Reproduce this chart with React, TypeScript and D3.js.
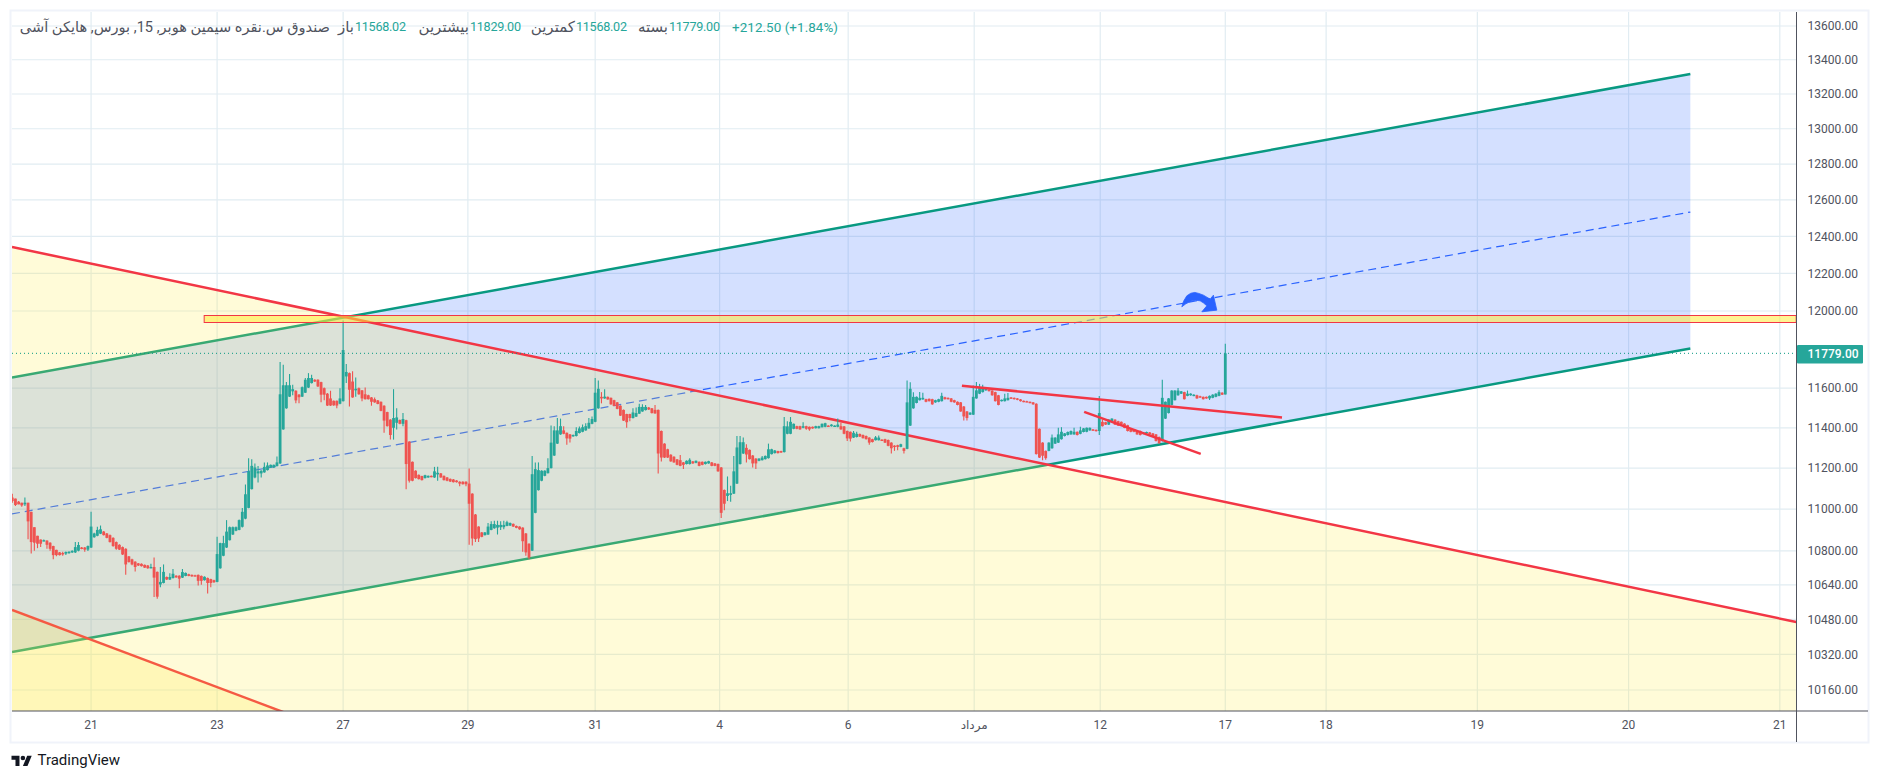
import React from "react";
import * as d3 from "d3";

// ---------- axis values ----------
const priceTicks = [13600, 13400, 13200, 13000, 12800, 12600, 12400, 12200, 12000, 11600, 11400, 11200, 11000, 10800, 10640, 10480, 10320, 10160];
const timeTickLabels = ["21", "23", "27", "29", "31", "4", "6", "مرداد", "12", "17", "18", "19", "20", "21"];
const timeTickBars = [25, 65, 105, 144.6, 185, 224.5, 265.3, 305.3, 345.3, 385, 417, 465, 513, 561];
const lastClose = 11779;

// ---------- OHLC bars: [open, close, high, low] ----------
type Bar = [number, number, number, number];
const barsFirstSwing: Bar[] = [
[11056,11039,11075,11031],[11051,11020,11051,11015],[11036,11023,11039,11023],[11031,11018,11031,11011],[11023,11031,11056,11015],
[11031,10941,11031,10855],[10987,10842,10987,10788],[10913,10839,10913,10801],[10872,10834,10872,10813],[10854,10834,10854,10818],
[10846,10851,10854,10846],[10849,10829,10851,10810],[10839,10810,10841,10801],[10823,10780,10825,10760],[10805,10780,10805,10775],
[10793,10780,10795,10778],[10790,10787,10796,10777],[10787,10795,10797,10780],[10790,10796,10798,10787],[10793,10800,10803,10790],
[10793,10818,10842,10790],[10801,10828,10842,10798],[10816,10810,10818,10808],[10816,10806,10818,10796],[10806,10823,10826,10800],
[10816,10916,10987,10814],[10865,10883,10886,10862],[10872,10900,10915,10870],[10882,10903,10921,10880],[10892,10875,10895,10873],
[10883,10862,10885,10860],[10875,10842,10878,10840],[10862,10823,10865,10820],[10842,10810,10845,10806],[10829,10806,10832,10804],
[10818,10783,10821,10780],[10810,10736,10812,10687],[10774,10747,10776,10745],[10760,10736,10763,10732],[10749,10724,10751,10703],
[10741,10731,10743,10729],[10739,10728,10741,10726],[10734,10721,10736,10719],[10731,10718,10733,10716],[10721,10724,10739,10718],
[10724,10674,10769,10583],[10701,10585,10703,10575],[10642,10654,10724,10629],[10649,10701,10736,10647],[10677,10665,10679,10663],
[10665,10677,10695,10663],[10672,10692,10715,10670],[10683,10675,10685,10673],[10683,10669,10685,10624],[10674,10700,10715,10672],
[10682,10696,10698,10680],[10690,10682,10692,10680],[10687,10680,10689,10678],[10685,10682,10687,10680],[10687,10659,10689,10637],
[10682,10659,10684,10641],[10662,10678,10680,10660],[10672,10649,10674,10600],[10667,10649,10669,10629],[10662,10652,10664,10650],
];
const barsFirstRally: Bar[] = [
[10654,10785,10867,10652],[10718,10837,10839,10716],[10777,10837,10872,10775],[10816,10892,10947,10814],[10851,10913,10916,10849],
[10878,10913,10916,10876],[10896,10913,10916,10894],[10900,10947,10950,10898],[10915,10987,11006,10912],[10954,11072,11120,10951],
[11006,11184,11248,11004],[11097,11211,11244,11095],[11154,11203,11223,11150],[11174,11184,11210,11129],[11174,11187,11190,11154],
[11179,11206,11228,11177],[11190,11213,11228,11188],[11203,11216,11218,11201],[11203,11216,11218,11201],[11210,11228,11257,11208],
[11223,11569,11734,11220],[11392,11615,11720,11390],[11498,11615,11631,11496],[11557,11615,11672,11555],[11584,11595,11617,11564],
[11587,11538,11589,11523],[11567,11554,11570,11523],[11557,11605,11608,11555],[11577,11643,11652,11575],[11603,11652,11677,11601],
[11626,11652,11669,11624],[11643,11634,11645,11632],[11643,11609,11645,11606],[11631,11567,11633,11528],[11600,11567,11603,11539],
[11572,11512,11575,11510],[11548,11512,11587,11510],[11536,11513,11538,11511],[11536,11512,11538,11498],[11521,11548,11600,11519],
[11534,11796,11950,11532],[11660,11683,11724,11626],[11677,11592,11680,11507],[11634,11553,11686,11551],[11589,11597,11655,11556],
[11600,11569,11603,11567],[11589,11548,11591,11534],[11569,11544,11603,11542],[11564,11544,11566,11542],[11553,11531,11555,11511],
[11544,11528,11553,11526],[11538,11520,11540,11518],[11531,11485,11533,11483],[11511,11436,11513,11375],[11479,11408,11481,11406],
[11441,11364,11443,11341],[11400,11449,11595,11341],[11425,11452,11498,11392],[11439,11420,11441,11418],[11420,11444,11474,11408],
[11438,11220,11440,11097],[11331,11138,11333,11129],[11231,11138,11233,11136],[11187,11151,11189,11149],[11167,11146,11169,11144],
[11161,11141,11163,11139],[11151,11165,11167,11149],[11154,11162,11164,11152],[11162,11157,11164,11155],[11154,11184,11206,11152],
[11169,11177,11206,11138],[11174,11154,11176,11152],[11162,11141,11164,11139],[11154,11138,11156,11136],[11147,11134,11149,11132],
];
const barsSecondSwing: Bar[] = [
[11144,11131,11146,11129],[11139,11131,11141,11129],[11133,11124,11135,11111],[11133,11121,11135,11119],[11133,11121,11135,11111],
[11124,11026,11198,10829],[11075,10859,11077,10826],[10974,10856,10976,10842],[10916,10859,10918,10842],[10888,10867,10890,10865],
[10875,10888,10890,10873],[10878,10916,10933,10876],[10900,10928,10941,10898],[10908,10928,10944,10906],[10911,10924,10944,10878],
[10913,10924,10941,10900],[10913,10924,10944,10903],[10919,10937,10944,10917],[10921,10933,10935,10919],[10929,10916,10931,10914],
[10919,10910,10921,10908],[10916,10903,10918,10901],[10911,10846,10913,10796],[10883,10793,10885,10777],[10834,10769,10836,10760],
[10801,11170,11260,10799],[10982,11195,11228,10980],[11092,11190,11228,11090],[11138,11187,11190,11136],[11162,11187,11190,11160],
[11175,11200,11249,11173],[11200,11326,11411,11198],[11262,11387,11408,11260],[11321,11387,11449,11319],[11367,11408,11446,11365],
[11387,11370,11408,11368],[11375,11347,11377,11315],[11367,11346,11369,11326],[11357,11364,11366,11355],[11359,11384,11403,11357],
[11374,11397,11407,11372],[11380,11403,11416,11378],[11387,11408,11423,11385],[11397,11425,11449,11395],[11420,11444,11457,11418],
[11430,11577,11652,11428],[11498,11597,11639,11496],[11556,11548,11580,11523],[11548,11557,11595,11546],[11556,11543,11558,11541],
[11551,11518,11553,11516],[11539,11510,11541,11508],[11528,11495,11530,11493],[11511,11461,11513,11459],[11490,11436,11492,11434],
[11469,11428,11471,11400],[11469,11449,11471,11433],[11449,11477,11498,11447],[11456,11474,11502,11454],[11471,11505,11521,11469],
[11482,11505,11518,11480],[11489,11505,11515,11487],[11502,11492,11504,11490],[11498,11474,11500,11472],[11490,11472,11515,11470],
];
const barsThirdSwing: Bar[] = [
[11490,11272,11492,11174],[11384,11252,11386,11233],[11321,11252,11323,11250],[11293,11252,11295,11250],[11266,11233,11268,11231],
[11256,11228,11258,11226],[11243,11216,11245,11214],[11239,11211,11264,11209],[11228,11216,11230,11195],[11220,11236,11238,11218],
[11220,11241,11249,11218],[11233,11223,11235,11221],[11226,11236,11238,11224],[11231,11211,11233,11209],[11231,11216,11233,11214],
[11220,11231,11233,11218],[11223,11234,11236,11221],[11228,11211,11230,11209],[11223,11211,11225,11209],[11220,11184,11222,11182],
[11203,10982,11205,10957],[11093,11026,11095,10995],[11064,11077,11159,11039],[11069,11077,11113,11036],[11075,11184,11260,11073],
[11124,11302,11359,11122],[11220,11328,11359,11218],[11272,11328,11351,11270],[11300,11267,11318,11228],[11290,11244,11292,11242],
[11262,11223,11264,11203],[11247,11223,11249,11195],[11236,11247,11249,11234],[11239,11252,11260,11237],[11244,11260,11262,11242],
[11249,11293,11321,11247],[11269,11293,11295,11267],[11274,11287,11289,11272],[11284,11274,11286,11272],[11284,11277,11286,11275],
[11279,11408,11454,11277],[11370,11407,11433,11368],[11370,11430,11454,11368],[11395,11420,11422,11393],[11408,11395,11410,11393],
[11408,11392,11410,11390],[11400,11408,11428,11398],[11408,11395,11410,11390],[11405,11392,11407,11385],[11405,11397,11407,11395],
[11398,11408,11410,11396],[11398,11408,11410,11396],[11403,11420,11422,11401],[11405,11423,11425,11403],[11411,11407,11413,11405],
[11408,11416,11418,11406],[11407,11411,11413,11405],[11405,11416,11446,11403],[11408,11392,11425,11390],[11407,11370,11409,11368],
[11384,11347,11386,11334],[11380,11346,11382,11331],[11351,11375,11384,11349],[11354,11370,11380,11352],[11369,11356,11371,11354],
[11364,11348,11366,11346],[11359,11343,11361,11341],[11351,11326,11353,11315],[11343,11329,11345,11327],[11338,11352,11359,11336],
[11338,11351,11361,11336],[11341,11336,11343,11334],[11343,11326,11345,11324],[11339,11310,11341,11308],[11326,11298,11328,11272],
[11311,11305,11313,11285],[11313,11305,11315,11288],[11305,11318,11320,11303],[11298,11285,11300,11272],
];
const barsLastRange: Bar[] = [
[11295,11528,11639,11293],[11411,11597,11630,11409],[11498,11556,11579,11496],[11525,11556,11558,11523],[11539,11551,11580,11537],
[11543,11551,11577,11541],[11544,11531,11546,11529],[11546,11534,11548,11532],[11544,11518,11546,11516],[11528,11539,11541,11526],
[11531,11544,11546,11529],[11534,11561,11577,11532],[11554,11544,11556,11542],[11551,11544,11553,11542],[11548,11531,11550,11529],
[11539,11528,11541,11526],[11531,11515,11533,11513],[11528,11482,11530,11480],[11507,11457,11509,11436],[11482,11449,11484,11436],
[11466,11476,11478,11464],[11466,11556,11614,11464],[11548,11589,11631,11546],[11572,11605,11622,11570],[11580,11605,11617,11578],
[11589,11597,11599,11587],[11592,11585,11594,11583],[11588,11564,11590,11562],[11580,11534,11582,11532],[11564,11515,11566,11513],
[11534,11541,11543,11532],[11534,11548,11572,11532],[11539,11551,11575,11537],[11553,11548,11555,11546],[11551,11544,11553,11542],
[11548,11541,11550,11539],[11543,11534,11545,11532],[11536,11531,11538,11529],[11534,11530,11536,11528],[11531,11526,11533,11524],
[11528,11518,11530,11516],
];
const barsFinalLeg: Bar[] = [
[11521,11269,11523,11267],[11395,11252,11397,11250],[11326,11261,11328,11239],[11285,11249,11287,11241],[11285,11326,11328,11283],
[11298,11351,11367,11296],[11321,11351,11353,11319],[11326,11367,11400,11324],[11343,11380,11403,11341],[11359,11372,11374,11357],
[11364,11379,11381,11362],[11367,11384,11386,11365],[11367,11380,11400,11365],[11380,11364,11382,11362],[11370,11387,11405,11368],
[11379,11397,11399,11377],[11380,11400,11402,11378],[11387,11400,11402,11385],[11392,11387,11394,11385],[11390,11384,11392,11382],
[11384,11474,11560,11364],[11430,11408,11441,11406],[11428,11416,11430,11414],[11416,11441,11443,11414],[11433,11446,11448,11431],
[11441,11416,11443,11414],[11433,11411,11435,11409],[11430,11416,11432,11414],[11421,11400,11423,11398],[11413,11384,11415,11382],
[11397,11380,11399,11378],[11392,11380,11394,11378],[11384,11367,11386,11365],[11384,11364,11386,11362],[11370,11377,11379,11368],
[11372,11379,11381,11370],[11377,11367,11379,11365],[11372,11359,11374,11357],[11367,11334,11369,11332],[11354,11323,11356,11321],
[11334,11551,11643,11332],[11446,11531,11533,11444],[11474,11548,11550,11472],[11515,11588,11590,11513],[11539,11588,11590,11537],
[11564,11588,11601,11562],[11572,11584,11586,11570],[11580,11544,11582,11542],[11561,11572,11588,11559],[11564,11572,11574,11562],
[11561,11567,11569,11559],[11564,11548,11566,11546],[11559,11554,11561,11552],[11556,11544,11558,11542],[11556,11548,11558,11546],
[11548,11561,11563,11540],[11551,11567,11569,11549],[11556,11572,11574,11554],[11561,11580,11590,11559],[11577,11567,11579,11565],
[11568.02,11779,11829,11568.02],
];
const bars: Bar[] = [...barsFirstSwing, ...barsFirstRally, ...barsSecondSwing, ...barsThirdSwing, ...barsLastRange, ...barsFinalLeg];

// ---------- drawings: [bar index, price] ----------
type Pt = [number, number];
const channelUpper: Pt[] = [[-0.1, 11655], [532.6, 13316]];
const channelLower: Pt[] = [[-0.1, 10331], [532.6, 11804]];
const channelMid: Pt[] = [[-0.1, 10977], [532.6, 12533]];
const wedgeTop: Pt[] = [[-0.1, 12342], [566.2, 10468]];
const wedgeLower: Pt[] = [[-0.1, 10524], [150, 9732]];
const paneBottomPrice = 10050;
const resistanceBox = { fromBar: 60.9, toBar: 566.2, high: 11977, low: 11938 };
const shortTrendA: Pt[] = [[301.4, 11612], [403, 11452]];
const shortTrendB: Pt[] = [[340.2, 11480], [377.2, 11270]];
const arrowAnchor: Pt = [371.2, 12022];
const arrowShape: [number, number][] = [[0, 0], [2, -6], [5, -11], [9, -13.6], [13, -14.4], [17, -13.4], [21.6, -11.7], [28.3, -7.7], [31.6, -11.7], [35, 3.3], [20, 5], [25, -1], [21.5, -4], [18.3, -6], [14, -6.6], [10, -6], [4, -3], [0, 0]];

const headerTitle = "صندوق س.نقره سیمین هوبر, 15, بورس, هایکن آشی";
const headerLabels = ["باز", "بیشترین", "کمترین", "بسته"];
const headerValues = ["11568.02", "11829.00", "11568.02", "11779.00"];
const headerChange = "+212.50 (+1.84%)";

// ---------- layout ----------
const W = 1879, H = 781;
const paneL = 12, paneR = 1796.5, paneT = 12, paneB = 711;
const frameR = 1868, frameB = 742;
const GREEN = "#26a69a", RED = "#ef5350", TEAL = "#089981", LINE_RED = "#f23645", TXT = "#50535e", GRID = "#e1ecf2";
const FONT = "Roboto, 'DejaVu Sans', sans-serif";

const x = d3.scaleLinear().domain([0, 385]).range([12.3, 1225.3]);
const yRef = 2277;
const y = d3.scaleLog().domain([13600, 10160]).range([26, 26 + yRef * Math.log(13600 / 10160)]);
const line = d3.line<Pt>().x((d) => x(d[0])).y((d) => y(d[1]));
const poly = (pts: Pt[]) => line(pts) + "Z";

const labelEnd = [354, 469, 575, 668];
const valueX = [355, 470, 576, 669];

export default function App() {
  const ax = x(arrowAnchor[0]), ay = y(arrowAnchor[1]);
  const arrowD = d3.line()(arrowShape as any) || "";
  const boxTop = Math.floor(y(resistanceBox.high)) + 0.5;
  const boxBot = Math.floor(y(resistanceBox.low)) + 0.5;
  return (
    <svg width={W} height={H} viewBox={`0 0 ${W} ${H}`} style={{ position: "absolute", left: 0, top: 0, background: "#fff" }} fontFamily={FONT}>
      <defs>
        <clipPath id="pane"><rect x={paneL} y={paneT} width={paneR - paneL} height={paneB - paneT} /></clipPath>
      </defs>
      <rect x={10.5} y={10.5} width={frameR - 10} height={frameB - 10} fill="#fff" stroke="#f0f3fa" strokeWidth={2} />

      <g clipPath="url(#pane)">
        {priceTicks.map((p) => <line key={p} x1={paneL} x2={paneR} y1={y(p)} y2={y(p)} stroke={GRID} strokeWidth={1.2} />)}
        {timeTickBars.map((b, i) => <line key={i} x1={x(b)} x2={x(b)} y1={paneT} y2={paneB} stroke={GRID} strokeWidth={1.2} />)}

        {/* parallel channel */}
        <path d={poly([channelUpper[0], channelUpper[1], channelLower[1], channelLower[0]])} fill="rgba(41,98,255,0.2)" />
        <path d={line(channelUpper) || ""} stroke={TEAL} strokeWidth={2.5} fill="none" />
        <path d={line(channelLower) || ""} stroke={TEAL} strokeWidth={2.5} fill="none" />
        <path d={line(channelMid) || ""} stroke="#2962ff" strokeWidth={1.2} strokeDasharray="8 5" fill="none" />

        {/* wedge below the falling line */}
        <path d={poly([wedgeTop[0], wedgeTop[1], [wedgeTop[1][0], paneBottomPrice], [wedgeTop[0][0], paneBottomPrice]])} fill="rgba(255,235,59,0.2)" />
        <path d={line(wedgeTop) || ""} stroke={LINE_RED} strokeWidth={2.5} fill="none" />
        <path d={poly([wedgeLower[0], wedgeLower[1], [wedgeLower[0][0], wedgeLower[1][1]]])} fill="rgba(255,235,59,0.2)" />
        <path d={line(wedgeLower) || ""} stroke="#f55a43" strokeWidth={2.5} fill="none" />

        {/* last price line */}
        <line x1={paneL} x2={paneR} y1={y(lastClose)} y2={y(lastClose)} stroke={TEAL} strokeWidth={1} strokeDasharray="1 3" />

        {/* candles */}
        {bars.map(([o, c, h, l], i) => {
          const col = c >= o ? GREEN : RED;
          const top = y(Math.max(o, c)), bot = y(Math.min(o, c));
          return (
            <g key={i}>
              <line x1={x(i)} x2={x(i)} y1={y(h)} y2={y(l)} stroke={col} strokeWidth={1.1} />
              <rect x={x(i) - 1.4} width={2.8} y={top} height={Math.max(bot - top, 1.4)} fill={col} />
            </g>
          );
        })}

        {/* resistance box */}
        <rect x={x(resistanceBox.fromBar)} y={boxTop} width={x(resistanceBox.toBar) - x(resistanceBox.fromBar)} height={boxBot - boxTop} fill="rgba(255,235,59,0.55)" stroke={LINE_RED} strokeWidth={1} />

        {/* short trend lines */}
        <path d={line(shortTrendA) || ""} stroke={LINE_RED} strokeWidth={2.5} fill="none" />
        <path d={line(shortTrendB) || ""} stroke={LINE_RED} strokeWidth={2.5} fill="none" />

        {/* arrow */}
        <path d={arrowD} transform={`translate(${ax},${ay})`} fill="#2962ff" stroke="#2962ff" strokeWidth={0.8} strokeLinejoin="round" />
      </g>

      {/* axes */}
      <line x1={paneR} x2={paneR} y1={paneT} y2={frameB} stroke={TXT} strokeWidth={1} />
      <line x1={paneL} x2={frameR} y1={paneB} y2={paneB} stroke={TXT} strokeWidth={1.2} />

      {priceTicks.map((p) => (
        <text key={p} x={1807.5} y={y(p)} dy="0.35em" fontSize={12} fill={TXT}>{p.toFixed(2)}</text>
      ))}
      {timeTickBars.map((b, i) => (
        <text key={i} x={x(b)} y={725} dy="0.35em" textAnchor="middle" fontSize={12} fill={TXT}>{timeTickLabels[i]}</text>
      ))}

      <rect x={1797} y={345} width={66} height={18.5} rx={1} fill={GREEN} />
      <text x={1807.5} y={y(lastClose)} dy="0.37em" fontSize={12} fontWeight={500} fill="#fff">{lastClose.toFixed(2)}</text>

      {/* header */}
      <text x={330} y={27} dy="0.35em" direction="rtl" textAnchor="start" fontSize={14.6} fill={TXT}>{headerTitle}</text>
      {headerLabels.map((t, i) => (
        <text key={t} x={labelEnd[i]} y={27} dy="0.35em" textAnchor="end" fontSize={15} fill={TXT}>{t}</text>
      ))}
      {headerValues.map((t, i) => (
        <text key={i} x={valueX[i]} y={27} dy="0.35em" fontSize={12.6} textLength={51} lengthAdjust="spacing" fill={GREEN}>{t}</text>
      ))}
      <text x={732} y={27} dy="0.35em" fontSize={13.4} textLength={106} lengthAdjust="spacing" fill={GREEN}>{headerChange}</text>

      {/* logo */}
      <g transform="translate(11.5,753.5) scale(0.57)" fill="#131722">
        <path d="M14 22H7V11H0V4h14v18zM28 22h-8l7.5-18h8L28 22z" />
        <circle cx="20" cy="8" r="4" />
      </g>
      <text x={37.5} y={760} dy="0.35em" fontSize={15} fontWeight={400} fill="#131722">TradingView</text>
    </svg>
  );
}
